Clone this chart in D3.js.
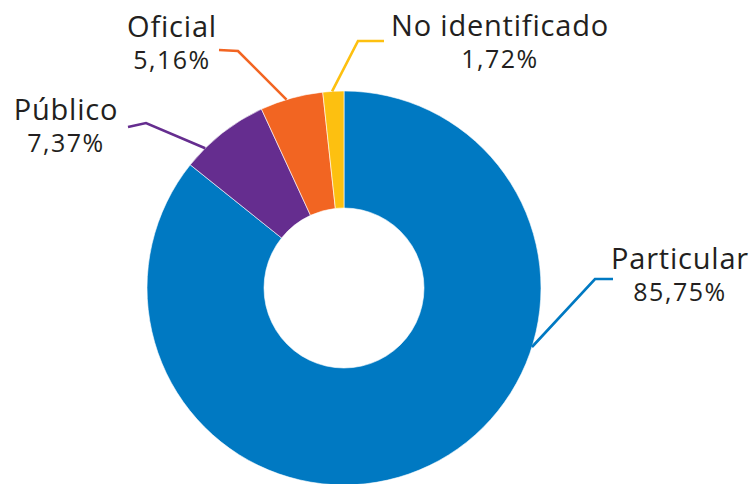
<!DOCTYPE html>
<html>
<head>
<meta charset="utf-8">
<script src="https://cdn.jsdelivr.net/npm/d3@7"></script>
<style>
  body { margin: 0; background: #fff; }
  text { font-family: "Open Sans", Lato, sans-serif; fill: #231f20; }
</style>
</head>
<body>
<svg id="donut"></svg>
<script>
// data
let categories = ['Particular', 'Público', 'Oficial', 'No identificado'];
let values = [85.75, 7.37, 5.16, 1.72];
let labels = ['85,75%', '7,37%', '5,16%', '1,72%'];
let colors = ['#0079c2', '#652d8f', '#f26522', '#fdc010'];

// layout of the callouts (where on the slice the line starts, knee, text)
let anchorAt = [0.348, 0.245, 0.42, 0.44];
let knees = [[595, 279], [146, 123], [238, 51], [358, 41]];
let ends = [[613, 279], [128, 127], [219, 50], [384, 41]];
let textPos = [[680, 269], [66, 120], [172, 37], [500, 36]];

let config = { svg: {}, pie: {} };
config.svg.width = 755;
config.svg.height = 484;
config.pie.cx = 344;
config.pie.cy = 288;
config.pie.outer = 197;
config.pie.inner = 80;

let svg = d3.select('svg#donut')
  .attr('width', config.svg.width)
  .attr('height', config.svg.height);

let plot = svg.append('g')
  .attr('transform', translate(config.pie.cx, config.pie.cy));

let pie = d3.pie().sort(null).value(d => d);
let arcs = pie(values);

let arc = d3.arc()
  .innerRadius(config.pie.inner)
  .outerRadius(config.pie.outer);

plot.selectAll('path.slice')
  .data(arcs)
  .enter()
  .append('path')
  .attr('class', 'slice')
  .attr('d', arc)
  .style('fill', (d, i) => colors[i])
  .style('stroke', '#fff')
  .style('stroke-width', 0.6);

// leader lines and labels
arcs.forEach(function(d, i) {
  let a = d.startAngle + (d.endAngle - d.startAngle) * anchorAt[i];
  let x = config.pie.cx + config.pie.outer * Math.sin(a);
  let y = config.pie.cy - config.pie.outer * Math.cos(a);
  svg.append('polyline')
    .attr('points', [[x, y], knees[i], ends[i]].map(p => p.join(',')).join(' '))
    .style('fill', 'none')
    .style('stroke', colors[i])
    .style('stroke-width', 2.6);

  let t = svg.append('text')
    .attr('x', textPos[i][0])
    .attr('y', textPos[i][1])
    .style('text-anchor', 'middle');
  t.append('tspan')
    .style('font-size', '29px')
    .style('letter-spacing', '0.8px')
    .text(categories[i]);
  t.append('tspan')
    .attr('x', textPos[i][0])
    .attr('dy', 32)
    .style('font-size', '25px')
    .style('letter-spacing', '1.5px')
    .text(labels[i]);
});

function translate(x, y) {
  return 'translate(' + x + ',' + y + ')';
}
</script>
</body>
</html>
